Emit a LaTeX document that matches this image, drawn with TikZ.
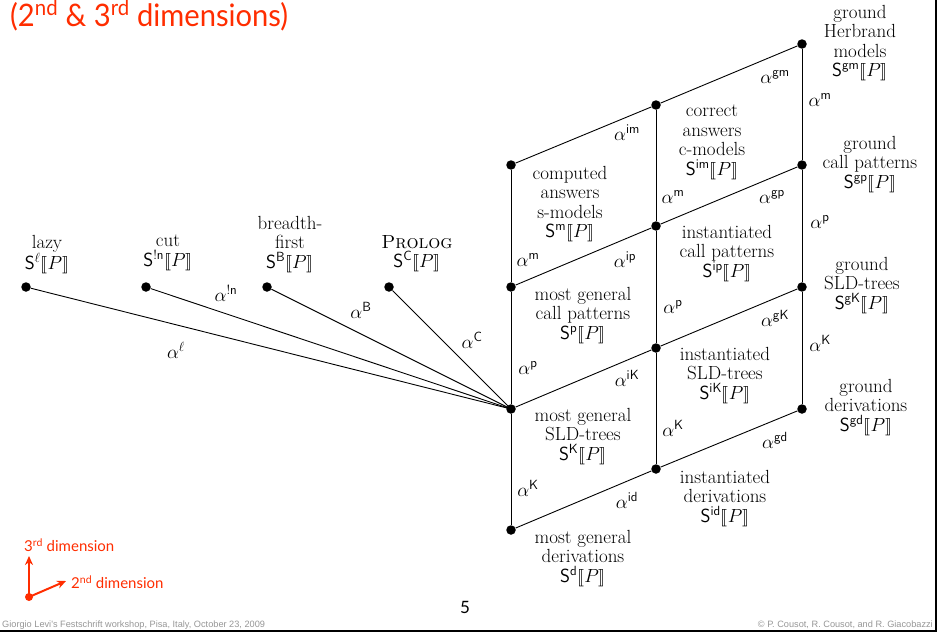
\RequirePackage{fix-cm}
\documentclass[tikz,border=0pt]{standalone}
\usepackage{amsmath}
\usepackage{stmaryrd}
\usepackage{fontspec}
\usetikzlibrary{arrows.meta}
\newfontfamily\titlefont{Lato}
\newfontfamily\titlenarrow[FakeStretch=0.94]{Lato}
\newfontfamily\footfont{Liberation Sans}
\definecolor{slidered}{RGB}{255,45,0}
\definecolor{footgray}{RGB}{150,150,150}
\newcommand{\SemP}[1]{$\mathsf{S}^{#1}\llbracket P\rrbracket$}
\newcommand{\alp}[1]{$\alpha^{#1}$}
\begin{document}
\begin{tikzpicture}[x=1pt,y=-1pt,
  dot/.style={circle,fill=black,inner sep=0pt,minimum size=9.5pt},
  conn/.style={line width=0.9pt},
  lbl/.style={align=center,inner sep=0pt,anchor=north,font=\fontsize{19}{19.5}\selectfont},
  albl/.style={inner sep=0pt,font=\fontsize{19}{19}\selectfont},
  redtxt/.style={text=slidered,inner sep=0pt}]
\useasboundingbox (0,0) rectangle (938,637);

% title
\node[redtxt,anchor=base west,font=\titlenarrow\fontsize{31}{31}\selectfont] (title) at (10,27)
  {(2\textsuperscript{nd} \& 3\textsuperscript{rd} dimensions)};

% fan dots
\node[dot] (lz) at (26,287) {};
\node[dot] (ct) at (146,287) {};
\node[dot] (bf) at (267,287) {};
\node[dot] (pr) at (389,287) {};

% grid dots
\node[dot] (m)  at (511,165) {};
\node[dot] (p)  at (511,287) {};
\node[dot] (K)  at (511,409) {};
\node[dot] (d)  at (511,530) {};
\node[dot] (im) at (656,105) {};
\node[dot] (ip) at (656,226) {};
\node[dot] (iK) at (656,348) {};
\node[dot] (id) at (656,469) {};
\node[dot] (gm) at (802,44) {};
\node[dot] (gp) at (802,165) {};
\node[dot] (gK) at (802,287) {};
\node[dot] (gd) at (802,409) {};

% fan labels
\node[lbl] (tlz) at (47,235) {lazy\\\SemP{\ell}};
\node[lbl] (tct) at (168,235) {cut\\\SemP{\mathsf{!n}}};
\node[lbl] (tbf) at (290,216) {breadth-\\first\\\SemP{\mathsf{B}}};
\node[lbl] (tpr) at (417,235) {\textsc{Prolog}\\\SemP{\mathsf{C}}};

% grid labels
\node[lbl] (tm)  at (570,166) {computed\\answers\\s-models\\\SemP{\mathsf{m}}};
\node[lbl] (tp)  at (583,287) {most general\\call patterns\\\SemP{\mathsf{p}}};
\node[lbl] (tK)  at (583,408) {most general\\SLD-trees\\\SemP{\mathsf{K}}};
\node[lbl] (td)  at (583,530) {most general\\derivations\\\SemP{\mathsf{d}}};
\node[lbl] (tim) at (712,105) {correct\\answers\\c-models\\\SemP{\mathsf{im}}};
\node[lbl] (tip) at (727,225) {instantiated\\call patterns\\\SemP{\mathsf{ip}}};
\node[lbl] (tiK) at (725,347) {instantiated\\SLD-trees\\\SemP{\mathsf{iK}}};
\node[lbl] (tid) at (725,470) {instantiated\\derivations\\\SemP{\mathsf{id}}};
\node[lbl] (tgm) at (860,5) {ground\\Herbrand\\models\\\SemP{\mathsf{gm}}};
\node[lbl] (tgp) at (870,136) {ground\\call patterns\\\SemP{\mathsf{gp}}};
\node[lbl] (tgK) at (862,257) {ground\\SLD-trees\\\SemP{\mathsf{gK}}};
\node[lbl] (tgd) at (866,379) {ground\\derivations\\\SemP{\mathsf{gd}}};

% fan connectors
\draw[conn] (lz) -- (K.center);
\draw[conn] (ct) -- (K.center);
\draw[conn] (bf) -- (K.center);
\draw[conn] (pr) -- (K.center);

% grid connectors
\draw[conn] (m) -- (p) -- (K) -- (d);
\draw[conn] (im) -- (ip) -- (iK) -- (id);
\draw[conn] (gm) -- (gp) -- (gK) -- (gd);
\draw[conn] (m) -- (im) -- (gm);
\draw[conn] (p) -- (ip) -- (gp);
\draw[conn] (K) -- (iK) -- (gK);
\draw[conn] (d) -- (id) -- (gd);

% fan edge labels
\node[albl] (alz) at (176,350) {\alp{\ell}};
\node[albl] (act) at (226,293) {\alp{\mathsf{!n}}};
\node[albl] (abf) at (361,310) {\alp{\mathsf{B}}};
\node[albl] (apr) at (472,340) {\alp{\mathsf{C}}};

% grid edge labels
\node[albl] at (775,77)  {\alp{\mathsf{gm}}};
\node[albl] at (820,100) {\alp{\mathsf{m}}};
\node[albl] at (627,133) {\alp{\mathsf{im}}};
\node[albl] at (673,197) {\alp{\mathsf{m}}};
\node[albl] at (772,197) {\alp{\mathsf{gp}}};
\node[albl] at (820,222) {\alp{\mathsf{p}}};
\node[albl] at (528,260) {\alp{\mathsf{m}}};
\node[albl] at (625,260) {\alp{\mathsf{ip}}};
\node[albl] at (673,307) {\alp{\mathsf{p}}};
\node[albl] at (775,318) {\alp{\mathsf{gK}}};
\node[albl] at (820,343) {\alp{\mathsf{K}}};
\node[albl] at (528,368) {\alp{\mathsf{p}}};
\node[albl] at (627,378) {\alp{\mathsf{iK}}};
\node[albl] at (673,428) {\alp{\mathsf{K}}};
\node[albl] at (775,440) {\alp{\mathsf{gd}}};
\node[albl] at (528,488) {\alp{\mathsf{K}}};
\node[albl] at (627,500) {\alp{\mathsf{id}}};

% legend
\node[circle,fill=slidered,inner sep=0pt,minimum size=8pt] (o) at (29,597) {};
\coordinate (up) at (29,556);
\coordinate (rt) at (66,581);
\draw[slidered,line width=2pt,-{Stealth[length=9pt,width=8pt]}] (o.center) -- (up);
\draw[slidered,line width=2pt,-{Stealth[length=9pt,width=8pt]}] (o.center) -- (rt);
\node[redtxt,anchor=west,font=\titlefont\fontsize{15}{15}\selectfont] (l3) at (24,545) {3\textsuperscript{rd} dimension};
\node[redtxt,anchor=west,font=\titlefont\fontsize{15}{15}\selectfont] (l2) at (71,582) {2\textsuperscript{nd} dimension};

% page number and footer
\node[inner sep=0pt,font=\titlefont\fontsize{17}{17}\selectfont] (pg) at (465,607) {5};
\node[anchor=base west,inner sep=0pt,text=footgray,font=\footfont\fontsize{9.2}{10}\selectfont] (fl) at (2,627)
  {Giorgio Levi's Festschrift workshop, Pisa, Italy, October 23, 2009};
\node[anchor=base east,inner sep=0pt,text=footgray,font=\footfont\fontsize{9.2}{10}\selectfont] (fr) at (933,627)
  {\textcopyright{} P. Cousot, R. Cousot, and R. Giacobazzi};

% frame
\fill[white] (936,0) rectangle (950,637);
\draw[line width=1.5pt] (0,631) -- (936,631) -- (936,0);
\end{tikzpicture}
\end{document}
